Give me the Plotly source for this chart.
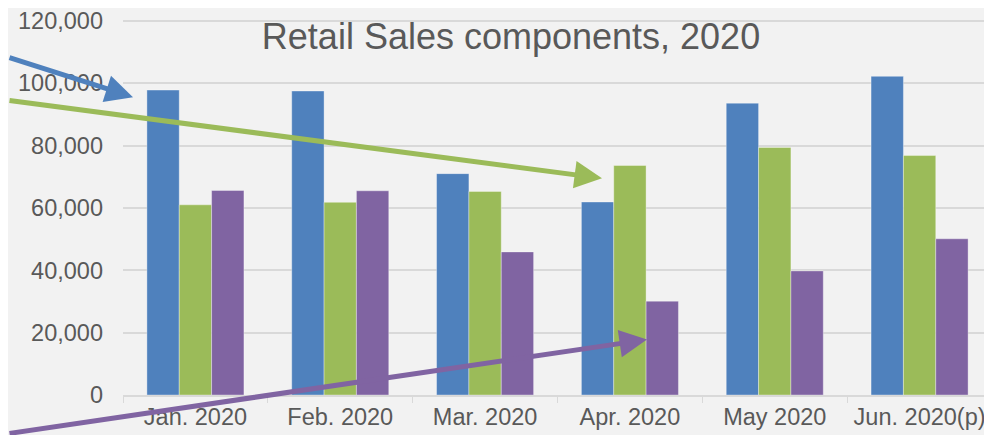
import plotly.graph_objs as go

months = ['Jan. 2020', 'Feb. 2020', 'Mar. 2020', 'Apr. 2020', 'May 2020', 'Jun. 2020(p)']
series_a = [97800, 97500, 71000, 61900, 93600, 102200]
series_b = [61000, 61800, 65300, 73600, 79400, 76800]
series_c = [65600, 65500, 45900, 30100, 39800, 50100]

colors = ['#4f81bd', '#9bbb59', '#8064a2']

fig = go.Figure()
for vals, col in zip([series_a, series_b, series_c], colors):
    fig.add_trace(go.Bar(x=months, y=vals, marker_color=col,
                         marker_line_color='rgba(255,255,255,0.35)', marker_line_width=1))

# arrows pointing at the bars (head position in paper coords, tail offset in px)
def arrow(x_px, y_px, ax, ay, col):
    fig.add_annotation(x=(x_px - 123) / 869, y=(395 - y_px) / 380, xref='paper', yref='paper',
                       ax=ax, ay=ay, text='', showarrow=True, arrowhead=2, arrowsize=1.1,
                       arrowwidth=5, arrowcolor=col, standoff=0)

arrow(133, 94, -150, -40, colors[0])
arrow(602, 176, -620, -78, colors[1])
arrow(647, 339, -640, 94, colors[2])

# page body has an 8px margin, so the figure is shrunk by that much
fig.update_layout(
    barmode='group', bargap=0.33, bargroupgap=0,
    showlegend=False,
    width=984, height=427,
    margin=dict(l=115, r=0, t=7, b=40),
    paper_bgcolor='#f2f2f2', plot_bgcolor='#f2f2f2',
    font=dict(family='Liberation Sans, Arial', color='#595959', size=23),
    title=dict(text='Retail Sales components, 2020', x=503 / 984, xanchor='center',
               y=1 - 28 / 427, yanchor='middle', xref='container', yref='container',
               font=dict(size=36, color='#595959')),
    xaxis=dict(showgrid=False, showline=True, linecolor='#d9d9d9', linewidth=2,
               ticks='outside', tickson='boundaries', ticklen=6, tickcolor='#d9d9d9',
               tickfont=dict(size=23.5)),
    yaxis=dict(range=[0, 120600], tickvals=[0, 20000, 40000, 60000, 80000, 100000, 120000],
               tickformat=',', showgrid=True, ticklabeloverflow='allow',
               gridcolor='#d9d9d9', gridwidth=1.5, zeroline=False, showline=False,
               ticks='', ticklabelstandoff=19, tickfont=dict(size=23.5)),
)

fig.write_html("out.html")
